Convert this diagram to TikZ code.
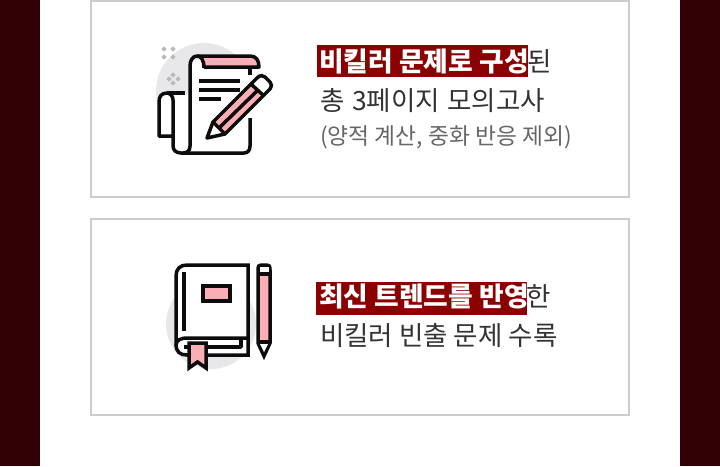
\documentclass[tikz,border=0pt]{standalone}
\usepackage{fontspec}
\newfontfamily\kr{Noto Sans CJK KR}
\definecolor{band}{HTML}{300004}
\definecolor{hl}{HTML}{8B0000}
\definecolor{pinkf}{HTML}{FBAEB6}
\definecolor{ink}{HTML}{0C0C0C}
\definecolor{disc}{HTML}{E8E8EA}
\definecolor{frame}{HTML}{CCCCCC}
\definecolor{txt}{HTML}{333333}
\definecolor{sub}{HTML}{666666}
\tikzset{
 panel/.style={draw=frame,line width=2pt,fill=white},
 ico/.style={draw=ink,line width=3.5pt,line cap=butt,line join=round},
 mainline/.style={anchor=base west,inner sep=0pt,text=txt,font=\kr\fontsize{26.5}{26.5}\selectfont},
 subline/.style={anchor=base west,inner sep=0pt,text=sub,font=\kr\fontsize{22.8}{22.8}\selectfont},
 hlline/.style={anchor=base west,inner sep=0pt,text=white,font=\kr\bfseries\fontsize{26.8}{27}\selectfont},
 hlbox/.style={fill=hl,draw=none},
 spark/.style={fill=gray!55,draw=none},
}
\newcommand{\sparkdot}[2]{\fill[spark] (#1,#2-2.6) -- (#1+2.6,#2) -- (#1,#2+2.6) -- (#1-2.6,#2) -- cycle;}
\begin{document}
\begin{tikzpicture}[x=1pt,y=-1pt]
\useasboundingbox (0,0) rectangle (720,466);
\fill[white] (0,0) rectangle (720,466);
\fill[band] (0,0) rectangle (40,466);
\fill[band] (680,0) rectangle (720,466);
\draw[panel] (91,1) rectangle (629,197);
\draw[panel] (91,219) rectangle (629,415);
% icon 1: backdrop
\fill[disc] (204,91) circle (48);
\fill[white] (159,94) rectangle (190,136);
\fill[white] (173,94) rectangle (250,153);
\fill[white] (190,60) rectangle (250,153);
\fill[white] (174,136) rectangle (190,153);
\sparkdot{164}{49}\sparkdot{173}{49}\sparkdot{164}{57}\sparkdot{173}{57}
\sparkdot{173}{75}\sparkdot{169}{79}\sparkdot{178}{79}\sparkdot{173}{83}
% roll on top
\fill[pinkf] (198,57) -- (250,57) .. controls (256,57) and (259,61) .. (259,67) -- (204,67) .. controls (204,62) and (202,58) .. (198,57) -- cycle;
\draw[ico] (204,67) -- (259,67) .. controls (259,60) and (256,56) .. (250,56) -- (197,56) .. controls (193,56) and (190,60) .. (190,66) -- (190,146) .. controls (190,150) and (188,153) .. (183,153);
\draw[ico] (204,68) .. controls (204,60) and (201,56) .. (197,56);
\draw[ico] (250,66) -- (250,75);
\draw[ico] (250,118) -- (250,146) .. controls (250,150) and (248,153) .. (244,153) -- (181,153) .. controls (176,153) and (173,150) .. (173,146) -- (173,100) .. controls (173,96) and (170,93) .. (167,93) .. controls (161,93) and (159,97) .. (159,102) -- (159,136) -- (173,136);
\draw[ico] (167,93) -- (185,93);
% text lines of the sheet
\draw[ico] (199,81) -- (240,81);
\draw[ico] (199,90) -- (240,90);
\draw[ico] (199,99) -- (221,99);
% pencil
\fill[white] (214,122) -- (258,78) -- (272,90) -- (225,133) -- (206,139) -- cycle;
\fill[pinkf] (214,122) -- (252,84) -- (264,96) -- (225,133) -- cycle;
\draw[ico] (207,138) -- (213,122) -- (257,78) .. controls (260,75) and (263,75) .. (265,77) -- (270,82) .. controls (272,84) and (272,87) .. (270,89) -- (225,134) -- cycle;
\draw[ico] (213,122) -- (225,134);
\draw[ico] (251,84) -- (264,96);
\draw[ico] (219,128) -- (258,90);
% icon 2
\fill[disc] (211,324) circle (45);
\fill[white] (176,265) rectangle (249,356);
\draw[ico,line join=miter] (248,265) -- (187,265) .. controls (180,265) and (176,269) .. (176,276) -- (176,344) .. controls (176,352) and (180,355) .. (187,355) -- (248,355) -- cycle;
\draw[ico] (248,338) -- (188,338) .. controls (180,338) and (176,340) .. (176,346);
\draw[ico] (184,272) -- (184,331);
\draw[ico] (184,347) -- (241,347) -- (241,339);
\draw[ico,fill=pinkf,line join=miter] (203,286) rectangle (230,301);
\draw[ico,fill=pinkf,line join=miter] (189,343) -- (206,343) -- (206,368) -- (197.5,362) -- (189,368) -- cycle;
\draw[ico,fill=pinkf,line join=miter] (258,270) .. controls (258,266) and (259,265) .. (261,265) -- (267,265) .. controls (269,265) and (270,266) .. (270,270) -- (270,343) -- (264,356) -- (258,343) -- cycle;
\fill[white] (259.5,266.5) rectangle (268.5,273);
\draw[ico] (258,274) -- (270,274);
\fill[white] (259.5,343) -- (268.5,343) -- (264,352) -- cycle;
\draw[ico] (258,342) -- (270,342);
% text
\fill[hlbox] (317,45) rectangle (528,77);
\node[hlline] (t1) at (319,71) {비킬러 문제로 구성};
\node[mainline] (t1b) at (527,71) {된};
\node[mainline] (t2) at (320,110) {총\hspace{1.5pt} 3페이지\hspace{1.5pt} 모의고사};
\node[subline] (t3) at (320,144) {(양적 계산, 중화 반응 제외)};
\fill[hlbox] (316,282) rectangle (527,315);
\node[hlline] (t4) at (319,306) {최신 트렌드를 반영};
\node[mainline] (t4b) at (526,306) {한};
\node[mainline] (t5) at (320,345) {비킬러 빈출 문제 수록};
\end{tikzpicture}
\end{document}
